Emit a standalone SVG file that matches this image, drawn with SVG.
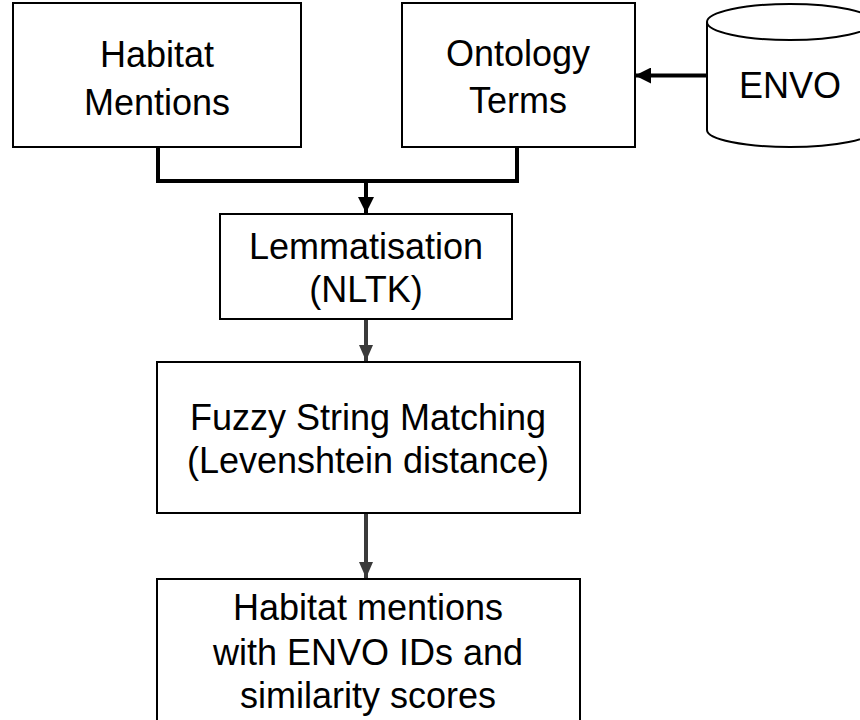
<svg xmlns="http://www.w3.org/2000/svg" width="860" height="720" viewBox="0 0 860 720">
  <style>
    .box { fill: #ffffff; stroke: #000000; stroke-width: 2; }
    .label { font-family: "Liberation Sans", Arial, sans-serif; font-size: 36px; fill: #000000; text-anchor: middle; }
    .link { fill: none; stroke: #000000; stroke-width: 4; }
    .link-grey { fill: none; stroke: #3a3a3a; stroke-width: 4; }
  </style>
  <defs>
    <marker id="head" viewBox="0 0 16 16" refX="16" refY="8" markerWidth="16" markerHeight="16" markerUnits="userSpaceOnUse" orient="auto">
      <path d="M0,0 L16,8 L0,16 Z" fill="#000000"/>
    </marker>
    <marker id="head-grey" viewBox="0 0 16 16" refX="16" refY="8" markerWidth="16" markerHeight="16" markerUnits="userSpaceOnUse" orient="auto">
      <path d="M0,1 L16,8 L0,15 Z" fill="#3a3a3a"/>
    </marker>
  </defs>
  <rect width="860" height="720" fill="#ffffff"/>

  <g id="connectors">
    <path class="link" d="M158,147 V181 H517 V147"/>
    <path class="link" d="M366,181 V213" marker-end="url(#head)"/>
    <path class="link" d="M707,75.5 H635" stroke-width="3.5" marker-end="url(#head)"/>
    <path class="link-grey" d="M366,319 V361" marker-end="url(#head-grey)"/>
    <path class="link-grey" d="M366,513 V578" marker-end="url(#head-grey)"/>
  </g>

  <g id="habitat-mentions">
    <rect class="box" x="13" y="3" width="288" height="144"/>
    <text class="label" x="157" y="67">Habitat</text>
    <text class="label" x="157" y="115">Mentions</text>
  </g>

  <g id="ontology-terms">
    <rect class="box" x="402" y="3" width="233" height="144"/>
    <text class="label" x="518" y="66">Ontology</text>
    <text class="label" x="518" y="113">Terms</text>
  </g>

  <g id="envo">
    <path class="box" d="M707,22 V130 A83,17 0 0 0 873,130 V22 A83,18 0 0 0 707,22 Z"/>
    <path class="box" fill="none" d="M707,22 A83,18 0 0 0 873,22"/>
    <text class="label" x="790" y="98">ENVO</text>
  </g>

  <g id="lemmatisation">
    <rect class="box" x="220" y="214" width="292" height="105"/>
    <text class="label" x="366" y="259">Lemmatisation</text>
    <text class="label" x="366" y="302">(NLTK)</text>
  </g>

  <g id="fuzzy-matching">
    <rect class="box" x="157" y="362" width="423" height="151"/>
    <text class="label" x="368" y="430">Fuzzy String Matching</text>
    <text class="label" x="368" y="473">(Levenshtein distance)</text>
  </g>

  <g id="matched-output">
    <rect class="box" x="157" y="579" width="423" height="160"/>
    <text class="label" x="368" y="620">Habitat mentions</text>
    <text class="label" x="368" y="665">with ENVO IDs and</text>
    <text class="label" x="368" y="708">similarity scores</text>
  </g>
</svg>
